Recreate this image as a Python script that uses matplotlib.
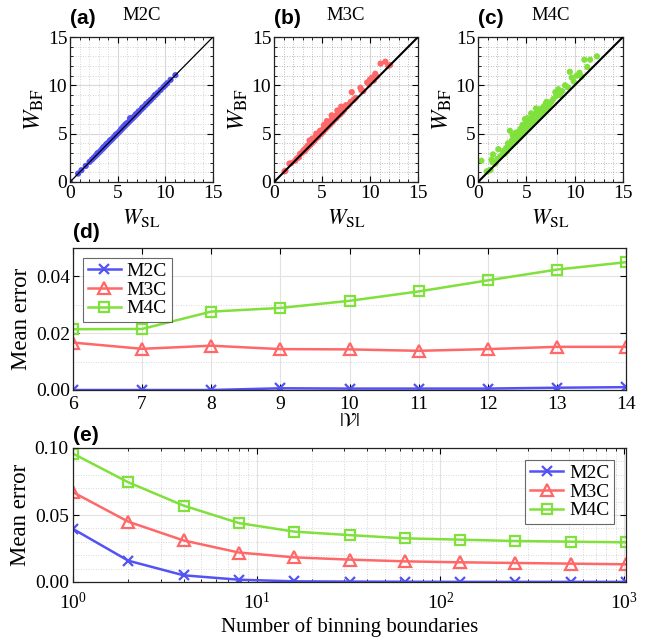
import numpy as np
import matplotlib
matplotlib.use("Agg")
import matplotlib.pyplot as plt
from matplotlib.ticker import MultipleLocator, FormatStrFormatter, LogLocator, NullFormatter

plt.rcParams['font.family'] = ['Liberation Serif', 'DejaVu Serif']
plt.rcParams['mathtext.fontset'] = 'stix'

# ---------------- data ----------------
series_names = ['M2C', 'M3C', 'M4C']
colors = ['#5252f5', '#ff6868', '#80e03c']

# (a) M2C scatter
m2c_sl = [0, 0.85, 1.2, 1.65, 2.05, 2.3, 2.5, 2.7, 2.85, 3.0, 3.15, 3.3, 3.45, 3.6, 3.75, 3.9,
          4.0, 4.15, 4.3, 4.45, 4.6, 4.75, 4.9, 5.05, 5.2, 5.35, 5.5, 5.65, 5.8, 5.95, 6.1, 6.3,
          6.25, 6.4, 6.55, 6.7, 6.85, 7.0, 7.15, 7.3, 7.5, 7.7, 7.9, 8.1, 8.3, 8.5, 8.75, 9.0,
          9.2, 9.5, 9.8, 10.0, 10.2, 10.55, 11.05, 4.2, 5.4, 6.0, 3.5, 7.2, 5.8, 6.5, 4.8, 5.6,
          2.9, 3.8, 6.9, 7.6, 8.0, 8.9]
m2c_bf = [0, 0.87, 1.22, 1.66, 2.08, 2.32, 2.52, 2.71, 2.88, 3.02, 3.16, 3.33, 3.46, 3.62, 3.77, 3.93,
          4.05, 4.18, 4.33, 4.47, 4.63, 4.78, 4.93, 5.08, 5.23, 5.38, 5.54, 5.69, 5.84, 5.99, 6.14, 6.6,
          6.29, 6.44, 6.58, 6.73, 6.88, 7.03, 7.18, 7.33, 7.53, 7.72, 7.93, 8.12, 8.33, 8.52, 8.77, 9.03,
          9.22, 9.52, 9.82, 10.02, 10.22, 10.57, 11.05, 4.3, 5.5, 6.1, 3.6, 7.3, 5.95, 6.62, 4.9, 5.72,
          2.98, 3.9, 7.0, 7.7, 8.08, 8.98]

# (b) M3C scatter
m3c_sl = [0, 1.1, 1.2, 1.6, 1.8, 2.2, 2.4, 2.6, 2.7, 2.9, 3.0, 3.1, 3.2, 3.3, 3.4, 3.5, 3.6, 3.7,
          3.8, 3.9, 4.0, 4.1, 4.2, 4.3, 4.4, 4.5, 4.6, 4.8, 4.7, 4.9, 5.0, 5.1, 5.2, 5.3, 5.4, 5.5,
          5.6, 5.7, 5.8, 5.9, 6.0, 6.1, 6.2, 6.3, 6.4, 6.5, 6.6, 6.7, 6.8, 6.9, 7.0, 7.1, 7.2, 7.3,
          7.4, 7.6, 7.5, 7.8, 8.0, 8.1, 8.3, 8.5, 9.0, 9.1, 9.3, 9.7, 9.9, 10.0, 10.2, 10.4, 10.55,
          10.7, 11.1, 11.6, 12.1, 11.9, 5.5, 6.0, 3.7, 4.4, 6.6, 7.0, 5.2, 4.0]
m3c_bf = [0, 1.1, 1.15, 1.9, 1.95, 2.2, 2.45, 2.55, 2.9, 3.0, 3.15, 3.3, 3.2, 3.5, 3.45, 3.75, 3.65, 3.9,
          3.85, 4.15, 4.05, 4.35, 4.25, 4.6, 4.5, 4.8, 4.65, 5.3, 5.0, 4.95, 5.35, 5.15, 5.6, 5.4, 5.8, 5.6,
          6.0, 5.8, 6.25, 6.0, 6.45, 6.2, 6.6, 6.45, 6.85, 6.6, 7.0, 6.85, 7.2, 7.0, 7.4, 7.2, 7.5, 7.45,
          7.7, 7.8, 7.95, 8.0, 8.3, 9.3, 8.5, 8.7, 9.75, 9.5, 9.4, 10.3, 10.1, 10.6, 10.8, 10.5, 11.2,
          10.9, 12.25, 12.45, 12.1, 12.0, 6.3, 6.9, 4.3, 5.0, 7.4, 7.8, 5.9, 4.5]

# (c) M4C scatter
m4c_sl = [0, 0.35, 0.9, 1.2, 1.3, 1.4, 1.55, 1.5, 1.8, 2.1, 2.3, 2.5, 2.6, 2.8, 2.9, 3.0, 3.2, 3.3,
          3.4, 3.5, 3.6, 3.7, 3.8, 3.9, 4.0, 4.1, 4.2, 4.3, 4.4, 4.5, 4.6, 4.7, 4.85, 4.9, 5.0, 5.0,
          5.1, 5.2, 5.3, 5.4, 5.5, 5.6, 5.7, 5.8, 5.9, 6.0, 6.1, 6.2, 6.3, 6.4, 6.5, 6.6, 6.7, 6.8,
          6.9, 7.0, 7.1, 7.2, 7.4, 7.6, 7.8, 8.0, 8.1, 8.3, 8.5, 8.7, 9.0, 9.3, 9.5, 9.7, 9.9, 10.2,
          10.5, 10.7, 11.0, 11.3, 11.6, 12.3, 2.0, 6.0, 5.5, 4.6, 3.1]
m4c_bf = [0, 2.2, 1.1, 1.2, 1.25, 2.3, 2.85, 2.05, 1.9, 3.4, 2.6, 2.8, 3.2, 2.95, 3.5, 3.2, 3.9, 5.3,
          3.7, 4.3, 4.8, 4.0, 4.5, 5.1, 4.3, 4.8, 5.2, 4.6, 5.5, 4.8, 5.1, 5.7, 6.5, 5.3, 6.1, 5.6,
          6.6, 5.7, 6.2, 5.8, 6.5, 6.0, 6.8, 6.3, 7.0, 6.5, 7.2, 6.7, 7.5, 7.0, 7.2, 7.6, 7.1, 7.8,
          7.4, 8.1, 8.3, 7.7, 8.0, 8.3, 8.6, 9.3, 8.9, 9.6, 9.0, 9.4, 10.0, 9.8, 11.4, 10.8, 10.4, 11.0,
          11.3, 10.9, 12.65, 11.9, 12.65, 13.0, 2.4, 7.6, 7.1, 5.9, 4.0]

# (d) mean error vs |V|
v_sizes = [6, 7, 8, 9, 10, 11, 12, 13, 14]
d_m2c = [0.0000, 0.0000, 0.0000, 0.0006, 0.0005, 0.0005, 0.0005, 0.0008, 0.0010]
d_m3c = [0.0167, 0.0145, 0.0156, 0.0144, 0.0143, 0.0138, 0.0144, 0.0152, 0.0152]
d_m4c = [0.0214, 0.0215, 0.0276, 0.0289, 0.0314, 0.0347, 0.0386, 0.0424, 0.0450]

# (e) mean error vs number of binning boundaries
n_bounds = [1, 2, 4, 8, 16, 32, 64, 128, 256, 512, 1024]
e_m2c = [0.0396, 0.0159, 0.0050, 0.0017, 0.0005, 0.0003, 0.0002, 0.0001, 0.0001, 0.0001, 0.0001]
e_m3c = [0.0670, 0.0450, 0.0310, 0.0220, 0.0184, 0.0167, 0.0154, 0.0147, 0.0142, 0.0137, 0.0132]
e_m4c = [0.0958, 0.0744, 0.0570, 0.0440, 0.0376, 0.0350, 0.0326, 0.0316, 0.0306, 0.0301, 0.0296]

# ---------------- figure ----------------
W, H = 652, 641
fig = plt.figure(figsize=(W / 100, H / 100), dpi=100)

def rect(x0, y0, x1, y1):
    return [x0 / W, 1 - y1 / H, (x1 - x0) / W, (y1 - y0) / H]

tick_fs = 14
lab_fs = 16
tag_kw = dict(fontsize=15, fontweight='bold', family=['Liberation Sans', 'DejaVu Sans'],
              ha='left', va='bottom')

def style_axes(ax):
    ax.tick_params(which='both', direction='in', top=True, right=True, labelsize=tick_fs, pad=2)
    ax.tick_params(which='major', length=4, width=0.8)
    ax.tick_params(which='minor', length=2, width=0.6)
    for s in ax.spines.values():
        s.set_linewidth(0.9)
        s.set_color('#222222')

def legend_for(ax, loc, pad):
    leg = ax.legend(loc=loc, fontsize=14, fancybox=False, edgecolor='#444444',
                    handlelength=1.7, borderaxespad=pad, labelspacing=0.05, borderpad=0.25,
                    handletextpad=0.3)
    leg.get_frame().set_linewidth(0.8)
    return leg

scatter_sets = [(m2c_sl, m2c_bf), (m3c_sl, m3c_bf), (m4c_sl, m4c_bf)]
scatter_rects = [rect(70, 37, 213, 182), rect(274, 37, 418, 182), rect(478, 37, 623, 182)]
panel_tags = ['(a)', '(b)', '(c)']
for i in range(3):
    ax = fig.add_axes(scatter_rects[i])
    xs, ys = scatter_sets[i]
    ax.scatter(xs, ys, s=20, color=colors[i], edgecolors='none', zorder=2)
    ax.plot([0, 15], [0, 15], color='black', lw=0.9 if i == 0 else 1.5, zorder=3)
    ax.set_xlim(0, 15)
    ax.set_ylim(0, 15)
    ax.xaxis.set_major_locator(MultipleLocator(5))
    ax.yaxis.set_major_locator(MultipleLocator(5))
    ax.xaxis.set_minor_locator(MultipleLocator(1))
    ax.yaxis.set_minor_locator(MultipleLocator(1))
    ax.grid(which='major', color='#d8d8d8', lw=0.8, ls='-')
    ax.grid(which='minor', color='#c8c8c8' if i == 0 else '#a8a8a8', lw=0.6, ls=(0, (1, 2)))
    ax.set_axisbelow(True)
    style_axes(ax)
    ax.set_xlabel(r'$W_{\rm SL}$', fontsize=lab_fs, labelpad=4)
    ax.set_ylabel(r'$W_{\rm BF}$', fontsize=17.5, labelpad=1)
    ax.set_title(series_names[i], fontsize=13.5, pad=12)
    ax.text(0.0, 1.06, panel_tags[i], transform=ax.transAxes, **tag_kw)

markers = ['x', '^', 's']
msizes = [7, 9, 7]

# (d)
axd = fig.add_axes(rect(73, 248, 626, 390))
for vals, c, m, ms, name in zip([d_m2c, d_m3c, d_m4c], colors, markers, msizes, series_names):
    axd.plot(v_sizes, vals, color=c, lw=1.8, marker=m, ms=ms, mfc='none', mew=1.6, label=name)
axd.set_xlim(6, 14)
axd.set_ylim(0, 0.05)
axd.xaxis.set_major_locator(MultipleLocator(1))
axd.yaxis.set_major_locator(MultipleLocator(0.02))
axd.yaxis.set_minor_locator(MultipleLocator(0.01))
axd.yaxis.set_major_formatter(FormatStrFormatter('%.2f'))
axd.grid(which='major', color='#e2e2e2', lw=0.8)
axd.grid(which='minor', axis='y', color='#cccccc', lw=0.6, ls=(0, (1, 2)))
axd.set_axisbelow(True)
style_axes(axd)
axd.tick_params(which='minor', top=False, bottom=False, left=False, right=False)
axd.tick_params(axis='x', pad=4)
axd.set_xlabel(r'$|\mathcal{V}|$', fontsize=14, labelpad=0)
axd.set_ylabel('Mean error', fontsize=16.5, labelpad=3)
legend_for(axd, 'upper left', 0.5)
axd.text(0.0, 1.04, '(d)', transform=axd.transAxes, **tag_kw)

# (e)
axe = fig.add_axes(rect(73, 448, 626, 582))
for vals, c, m, ms, name in zip([e_m2c, e_m3c, e_m4c], colors, markers, msizes, series_names):
    axe.plot(n_bounds, vals, color=c, lw=1.8, marker=m, ms=ms, mfc='none', mew=1.6, label=name)
axe.set_xscale('log')
axe.set_xlim(1, 1024)
axe.set_ylim(0, 0.1)
axe.xaxis.set_major_locator(LogLocator(base=10, numticks=10))
axe.xaxis.set_minor_locator(LogLocator(base=10, subs=np.arange(2, 10), numticks=20))
axe.xaxis.set_minor_formatter(NullFormatter())
axe.yaxis.set_major_locator(MultipleLocator(0.05))
axe.yaxis.set_minor_locator(MultipleLocator(0.01))
axe.yaxis.set_major_formatter(FormatStrFormatter('%.2f'))
axe.grid(which='major', color='#e2e2e2', lw=0.8)
axe.grid(which='minor', color='#cccccc', lw=0.6, ls=(0, (1, 2)))
axe.set_axisbelow(True)
style_axes(axe)
axe.tick_params(which='minor', axis='y', left=False, right=False)
axe.tick_params(axis='x', pad=7)
axe.tick_params(axis='y', pad=3)
axe.set_xlabel('Number of binning boundaries', fontsize=15, labelpad=3)
axe.set_ylabel('Mean error', fontsize=16.5, labelpad=3)
legend_for(axe, 'upper right', 0.6)
axe.text(0.0, 1.02, '(e)', transform=axe.transAxes, **tag_kw)

fig.savefig('out.png', dpi=100)
